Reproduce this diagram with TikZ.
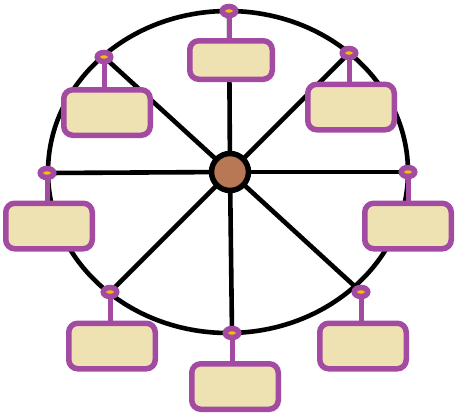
\documentclass[tikz,border=0pt]{standalone}
\usetikzlibrary{shapes.geometric}
\definecolor{gpurple}{RGB}{163,75,163}
\definecolor{gbeige}{RGB}{238,226,178}
\definecolor{gyellow}{RGB}{248,188,0}
\definecolor{hubbrown}{RGB}{185,120,85}
\begin{document}
\begin{tikzpicture}[x=1pt,y=-1pt,
  wheelline/.style={line width=4.6pt, black},
  pivot/.style={ellipse, draw=gpurple, fill=gyellow, line width=5.5pt, minimum width=13.5pt, minimum height=9pt, inner sep=0pt},
  cabin/.style={rectangle, rounded corners=9pt, draw=gpurple, fill=gbeige, line width=5.5pt, minimum width=86.5pt, minimum height=45.5pt, inner sep=0pt},
  smallcabin/.style={cabin, minimum width=82.5pt, minimum height=38.5pt},
  stem/.style={line width=5pt, gpurple},
  hubnode/.style={circle, draw=black, fill=hubbrown, line width=5.5pt, minimum size=37pt, inner sep=0pt}]
\useasboundingbox (0,0) rectangle (456,416);
% rim
\draw[wheelline] (228,172) ellipse [x radius=180pt, y radius=161pt];
% pivot coordinates
\coordinate (cT) at (229,11);
\coordinate (cUR) at (349,53);
\coordinate (cR) at (408,172);
\coordinate (cLR) at (361,292);
\coordinate (cB) at (232,333);
\coordinate (cLL) at (110,292);
\coordinate (cL) at (47,173);
\coordinate (cUL) at (104,57);
\coordinate (hubc) at (230,172);
% spokes
\foreach \p in {cT,cUR,cR,cLR,cB,cLL,cL,cUL}
  \draw[wheelline] (hubc) -- (\p);
\node[hubnode] (hub) at (hubc) {};
% cabins
\node[smallcabin] (bT) at (231,60) {};
\node[cabin] (bUR) at (351,107) {};
\node[cabin] (bR) at (408,226) {};
\node[cabin] (bLR) at (363,346) {};
\node[cabin] (bB) at (235,386.5) {};
\node[cabin] (bLL) at (112,346) {};
\node[cabin] (bL) at (49,226) {};
\node[cabin] (bUL) at (107,112.5) {};
% stems and pivots
\foreach \p/\b in {T/bT,UR/bUR,R/bR,LR/bLR,B/bB,LL/bLL,L/bL,UL/bUL}{
  \draw[stem] (c\p) -- (c\p |- \b.north);
  \node[pivot] (p\p) at (c\p) {};
}
\end{tikzpicture}
\end{document}
